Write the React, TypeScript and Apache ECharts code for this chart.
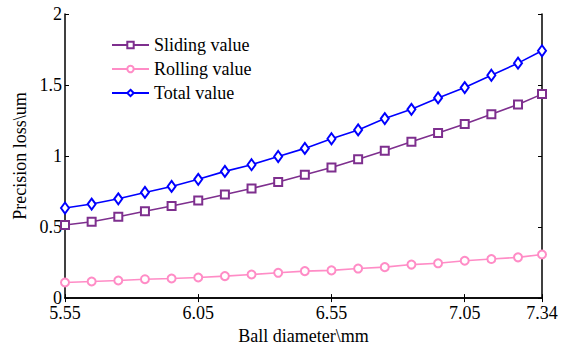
import React, { useEffect, useRef } from "react";
import * as echarts from "echarts";

const diameters = [5.55, 5.65, 5.75, 5.85, 5.95, 6.05, 6.15, 6.25, 6.35, 6.45, 6.55, 6.65, 6.75, 6.85, 6.95, 7.05, 7.15, 7.25, 7.34];
const slidingValue = [0.515, 0.538, 0.573, 0.612, 0.648, 0.687, 0.729, 0.772, 0.818, 0.868, 0.92, 0.978, 1.038, 1.1, 1.162, 1.225, 1.294, 1.363, 1.436];
const rollingValue = [0.11, 0.117, 0.124, 0.133, 0.138, 0.145, 0.155, 0.166, 0.178, 0.19, 0.195, 0.208, 0.218, 0.236, 0.245, 0.263, 0.275, 0.287, 0.307];
const totalValue = [0.634, 0.662, 0.699, 0.744, 0.786, 0.836, 0.892, 0.939, 0.997, 1.054, 1.122, 1.184, 1.264, 1.329, 1.409, 1.482, 1.569, 1.654, 1.741];
const xTicks = [5.55, 6.05, 6.55, 7.05, 7.34];
const yTicks = [0, 0.5, 1, 1.5, 2];

const FONT = "'Liberation Serif', 'Times New Roman', serif";

export default function App() {
  const ref = useRef<HTMLDivElement>(null);
  useEffect(() => {
    document.body.style.margin = "0";
    if (!ref.current) return;
    const chart = echarts.init(ref.current, undefined, { renderer: "svg" });
    const pair = (vals: number[]) => diameters.map((d, i) => [d, vals[i]]);
    const axisLine = { show: true, lineStyle: { color: "#000", width: 1.5 } };
    const tick = (vals: number[]) => ({ show: true, inside: true, length: 4, customValues: vals, lineStyle: { color: "#000", width: 1 } });
    chart.setOption({
      animation: false,
      textStyle: { fontFamily: FONT, color: "#000" },
      grid: { left: 65, right: 26, top: 14, bottom: 45 },
      legend: {
        orient: "vertical",
        left: 106,
        top: 31,
        itemWidth: 37,
        itemHeight: 8,
        itemGap: 6,
        textStyle: { fontFamily: FONT, fontSize: 18, color: "#000" },
        data: ["Sliding value", "Rolling value", "Total value"],
      },
      xAxis: [
        {
          type: "value",
          min: 5.55,
          max: 7.34,
          name: "Ball diameter\\mm",
          nameLocation: "middle",
          nameGap: 25,
          nameTextStyle: { fontFamily: FONT, fontSize: 18, color: "#000" },
          axisLine,
          axisTick: tick(xTicks),
          axisLabel: { customValues: xTicks, fontFamily: FONT, fontSize: 18, lineHeight: 12, color: "#000", margin: 9, formatter: (v: number) => String(v) },
          splitLine: { show: false },
        },
        {
          type: "value",
          position: "top",
          min: 5.55,
          max: 7.34,
          axisLine,
          axisTick: tick(xTicks),
          axisLabel: { show: false },
          splitLine: { show: false },
        },
      ],
      yAxis: [
        {
          type: "value",
          min: 0,
          max: 2,
          interval: 0.5,
          name: "Precision loss\\um",
          nameLocation: "middle",
          nameGap: 34,
          nameTextStyle: { fontFamily: FONT, fontSize: 18, color: "#000" },
          axisLine,
          axisTick: tick(yTicks),
          axisLabel: { fontFamily: FONT, fontSize: 18, lineHeight: 12, color: "#000", margin: 3, padding: [0, 0, 4, 0] },
          splitLine: { show: false },
        },
        {
          type: "value",
          position: "right",
          min: 0,
          max: 2,
          interval: 0.5,
          axisLine,
          axisTick: tick(yTicks),
          axisLabel: { show: false },
          splitLine: { show: false },
        },
      ],
      series: [
        {
          name: "Sliding value",
          type: "line",
          data: pair(slidingValue),
          symbol: "emptyRect",
          symbolSize: 8,
          color: "#7E2F8E",
          lineStyle: { width: 1.6 },
          itemStyle: { borderWidth: 1.6 },
        },
        {
          name: "Rolling value",
          type: "line",
          data: pair(rollingValue),
          symbol: "emptyCircle",
          symbolSize: 8,
          color: "#FF8CC6",
          lineStyle: { width: 1.6 },
          itemStyle: { borderWidth: 1.6 },
        },
        {
          name: "Total value",
          type: "line",
          data: pair(totalValue),
          symbol: "emptyDiamond",
          symbolSize: [8, 11],
          color: "#0000FF",
          lineStyle: { width: 1.6 },
          itemStyle: { borderWidth: 1.6 },
        },
      ],
    });
    return () => chart.dispose();
  }, []);
  return <div ref={ref} style={{ width: 568, height: 350, background: "#fff" }} />;
}
